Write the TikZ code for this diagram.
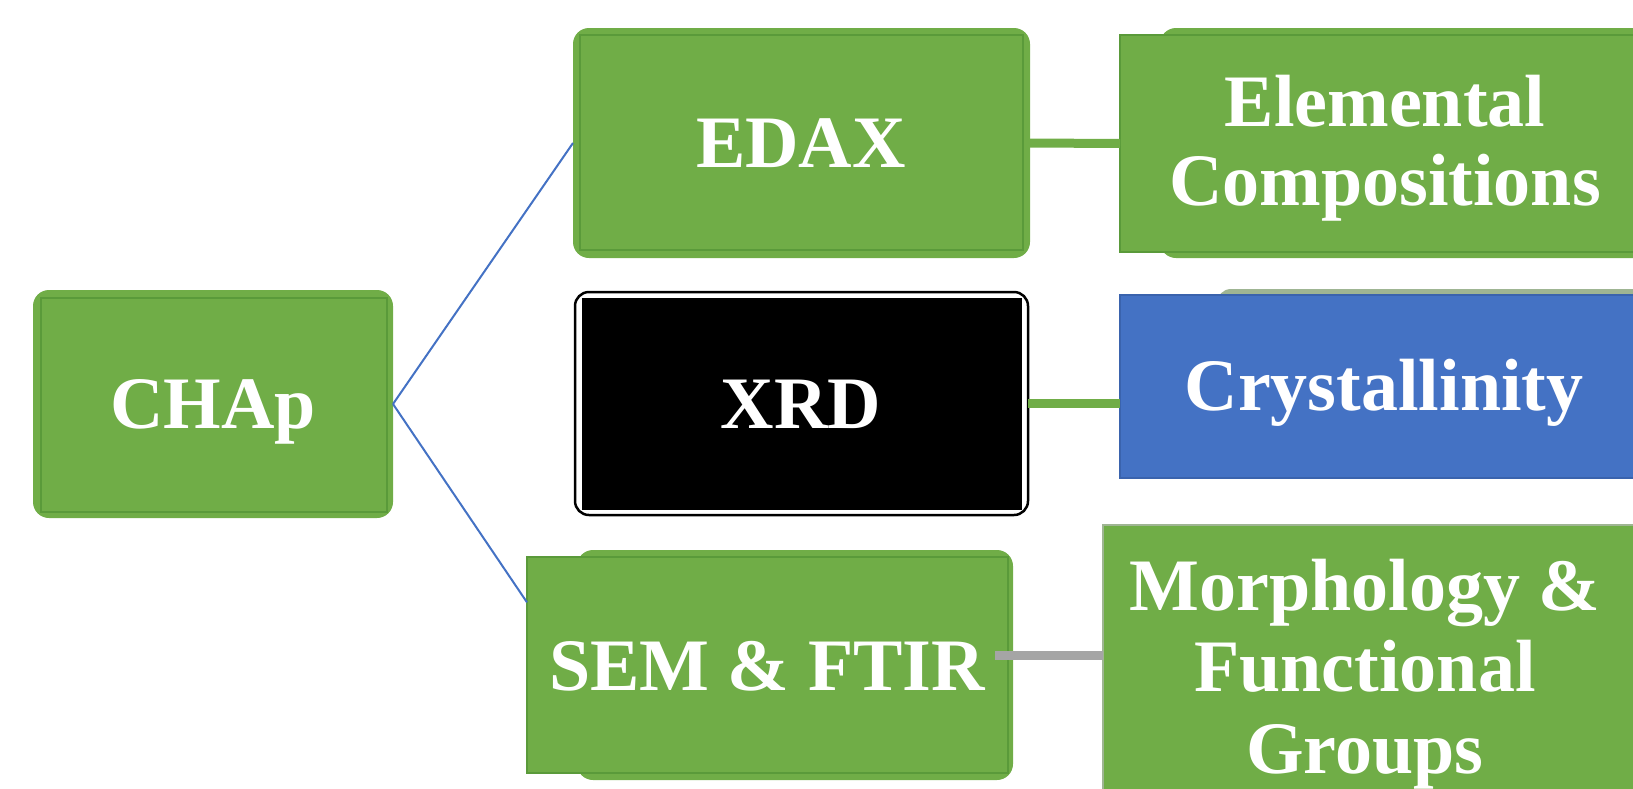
\documentclass[tikz,border=0pt]{standalone}
\usepackage{fontspec}
\setmainfont{Liberation Serif}
\usetikzlibrary{calc}
\definecolor{G}{HTML}{70AD47}
\definecolor{Gd}{HTML}{5A9A3A}
\definecolor{Bl}{HTML}{4472C4}
\definecolor{Bld}{HTML}{3A63AD}
\definecolor{Gr}{HTML}{A5A5A5}
\definecolor{GG}{HTML}{9FB593}
\begin{document}
\begin{tikzpicture}[x=1pt,y=-1pt,
  shp/.style={rectangle, inner sep=0pt, outer sep=0pt, anchor=north west},
  rback/.style={shp, fill=G, rounded corners=16pt},
  rfront/.style={shp, fill=G, draw=Gd, line width=2.5pt},
  inset/.style={draw=Gd, line width=2.5pt},
  lbl/.style={text=white, font=\fontsize{74}{79}\selectfont\bfseries, inner sep=0pt, anchor=base, align=center},
  blueline/.style={draw=Bl, line width=2pt},
  greenline/.style={draw=G, line width=9pt},
  greyline/.style={draw=Gr, line width=9pt}
]
\useasboundingbox (0,0) rectangle (1633,788);
\clip (0,0) rectangle (1633,788);

% CHAp
\node[rback, minimum width=360pt, minimum height=228pt] (chap) at (33,290) {};
\draw[inset] ($(chap.north west)+(8,8)$) rectangle ($(chap.south east)+(-6,-6)$);
\node[lbl] (chapt) at (213,428) {CHAp};

% EDAX
\node[rback, minimum width=457pt, minimum height=230pt] (edax) at (573,28) {};
\draw[inset] ($(edax.north west)+(7,7)$) rectangle ($(edax.south east)+(-7,-8)$);
\node[lbl] (edaxt) at (801,167) {EDAX};

% XRD
\node[shp, fill=white, draw=black, line width=2.5pt, rounded corners=14pt, minimum width=453pt, minimum height=223pt] (xrd) at (575,292) {};
\node[shp, fill=black, minimum width=440pt, minimum height=212pt] (xrdi) at (582,298) {};
\node[lbl] (xrdt) at (801,428) {XRD};

% SEM & FTIR
\node[rback, minimum width=436pt, minimum height=230pt] (semb) at (577,550) {};
\node[rfront, minimum width=481pt, minimum height=216pt] (semf) at (527,557) {};
\node[lbl] (semt) at (767,690) {SEM \& FTIR};

% Elemental Compositions
\node[rback, minimum width=520pt, minimum height=230pt] (elemb) at (1160,28) {};
\node[rfront, minimum width=560pt, minimum height=217pt] (elem) at (1120,35) {};
\node[lbl] (elemt) at (1385,205) {Elemental\\Compositions};

% Crystallinity
\node[shp, fill=GG, rounded corners=14pt, minimum width=463pt, minimum height=180pt] (crystb) at (1217,289) {};
\node[shp, fill=Bl, draw=Bld, line width=1.5pt, minimum width=560pt, minimum height=183pt] (cryst) at (1120,295) {};
\node[lbl] (crystt) at (1384,410) {Crystallinity};

% Morphology
\node[shp, fill=G, draw=GG, line width=2.5pt, minimum width=580pt, minimum height=300pt] (morph) at (1103,525) {};
\node[lbl, font=\fontsize{74}{81.5}\selectfont\bfseries] (morpht) at (1365,773) {Morphology \&\\Functional\\Groups};

% connectors
\coordinate (semin) at ($(semf.north west)!0.21!(semf.south west)$);
\draw[blueline] (chap.east) -- (edax.west);
\draw[blueline] (chap.east) -- (semin);
\draw[greenline] (edax.east) -- (elem.west);
\draw[greenline] (xrd.east) -- (xrd.east -| cryst.west);
\coordinate (gs) at (995,655);
\draw[greyline] (gs) -- (gs -| morph.west);
\end{tikzpicture}
\end{document}
